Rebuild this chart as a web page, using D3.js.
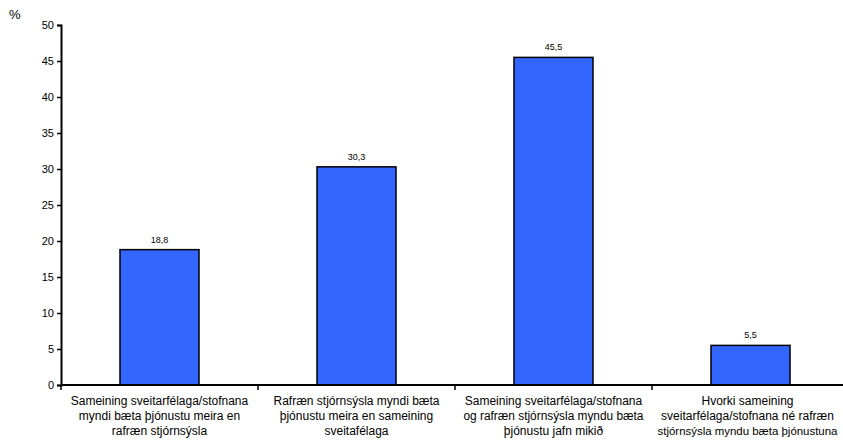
<!DOCTYPE html>
<html><head><meta charset="utf-8">
<script src="https://cdn.jsdelivr.net/npm/d3@7"></script>
<style>body{margin:0;background:#fff}svg{display:block}text{font-family:"Liberation Sans",Arial,sans-serif;fill:#000}</style>
</head><body><svg id="c" width="843" height="441"></svg>
<script>
const categories = [
  ["Sameining sveitarfélaga/stofnana","myndi bæta þjónustu meira en","rafræn stjórnsýsla"],
  ["Rafræn stjórnsýsla myndi bæta","þjónustu meira en sameining","sveitafélaga"],
  ["Sameining sveitarfélaga/stofnana","og rafræn stjórnsýsla myndu bæta","þjónustu jafn mikið"],
  ["Hvorki sameining","sveitarfélaga/stofnana né rafræn","stjórnsýsla myndu bæta þjónustuna"]
];
const values = [18.8, 30.3, 45.5, 5.5];
const yTicks = [0,5,10,15,20,25,30,35,40,45,50];

(function(){
const svg = d3.select("#c");
const mL = 61, mR = 849, mT = 25, mB = 385;
const xb = d3.scaleBand().domain(d3.range(values.length)).range([mL, mR]);
const y = d3.scaleLinear().domain([0,50]).range([mB, mT]);

svg.selectAll("rect.bar").data(values).join("rect")
  .attr("x",(d,i)=>xb(i)+xb.bandwidth()/2-39.5)
  .attr("width",79)
  .attr("y",d=>y(d)).attr("height",d=>mB-y(d))
  .attr("fill","#3366FF").attr("stroke","#000").attr("stroke-width",1.5);

svg.selectAll("text.val").data(values).join("text")
  .attr("x",(d,i)=>xb(i)+xb.bandwidth()/2).attr("y",d=>y(d)-7)
  .attr("text-anchor","middle").attr("font-size",9)
  .text(d=>d3.format(".1f")(d).replace(".",","));

const ya = svg.append("g").attr("transform",`translate(${mL},0)`)
  .call(d3.axisLeft(y).tickValues(yTicks).tickSize(4).tickPadding(3));
ya.select(".domain").attr("stroke","#000").attr("stroke-width",2);
ya.selectAll(".tick line").attr("stroke","#000").attr("stroke-width",1.5);
ya.selectAll(".tick text").attr("font-size",11).attr("font-family","Liberation Sans, Arial, sans-serif");

const xa = svg.append("g").attr("transform",`translate(0,${mB})`);
xa.append("line").attr("x1",mL).attr("x2",mR).attr("stroke","#000").attr("stroke-width",2);
xa.selectAll("line.t").data(d3.range(values.length+1)).join("line")
  .attr("x1",i=>mL+i*xb.step()).attr("x2",i=>mL+i*xb.step())
  .attr("y1",0).attr("y2",5).attr("stroke","#000").attr("stroke-width",1.5);

categories.forEach((lines,i)=>{
  const cx = xb(i)+xb.bandwidth()/2 - (i===3?3:0);
  lines.forEach((l,j)=>{
    const t = svg.append("text").attr("text-anchor","middle").attr("font-size",12)
      .attr("x",cx).attr("y",405+j*15).text(l);
    const w = t.node().getComputedTextLength();
    if (w > 180) t.attr("font-size",(12*180/w).toFixed(2));
  });
});

svg.append("text").attr("x",9).attr("y",19).attr("font-size",13).text("%");
})();
</script></body></html>
